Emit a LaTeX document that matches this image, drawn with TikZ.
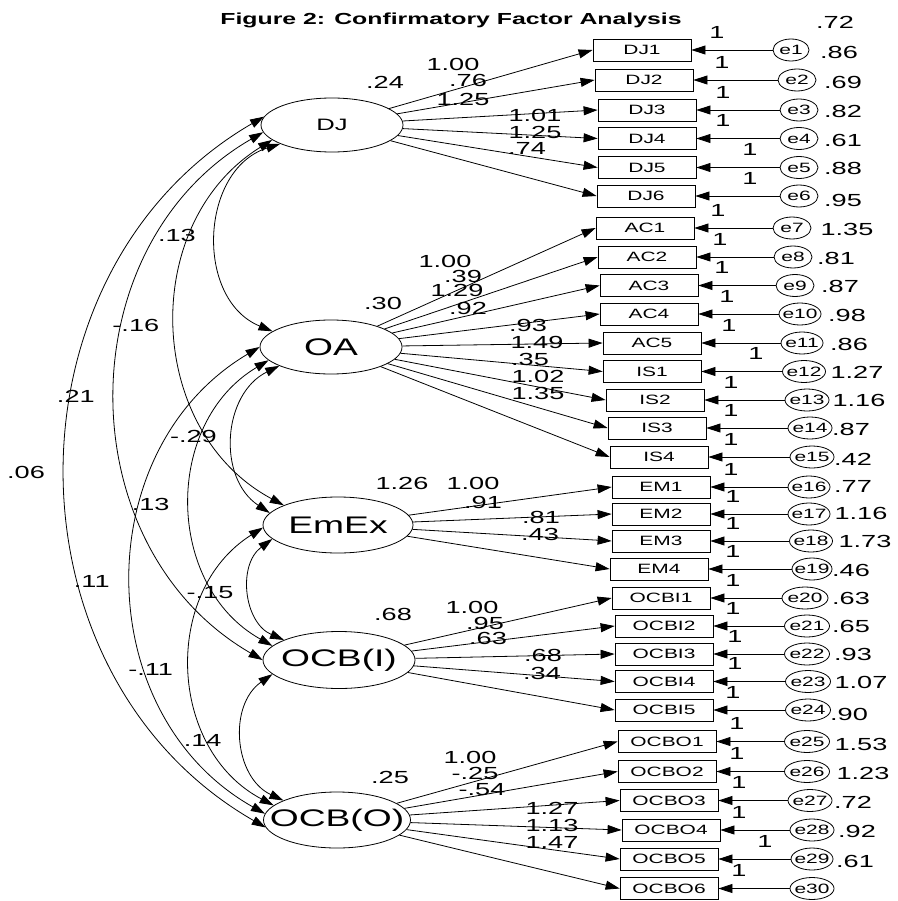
\documentclass[tikz,border=0pt]{standalone}
\usepackage{fontspec}
\setmainfont{Liberation Sans}[FakeStretch=1.55]
\usetikzlibrary{arrows.meta,shapes.geometric}
\newcommand{\zw}[1]{\makebox[0pt]{#1}}

\begin{document}
\begin{tikzpicture}[x=1pt,y=-1pt,line width=.8pt,>={Triangle[length=14pt,width=9pt]},
lat/.style={draw,ellipse,inner sep=0pt,font=\fontsize{24}{26}\selectfont},
obs/.style={draw,minimum width=98pt,minimum height=22pt,inner sep=0pt,font=\fontsize{13.5}{15}\selectfont},
err/.style={draw,ellipse,minimum height=22pt,inner sep=0pt,font=\fontsize{13.5}{15}\selectfont},
num/.style={inner sep=0pt,font=\fontsize{17.5}{19}\selectfont},
cl/.style={num,midway,xshift=-40pt}]
\useasboundingbox (0,0) rectangle (897,901);
\node[font=\bfseries\fontsize{16}{18}\selectfont,anchor=base] (title) at (451,25) {Figure 2: Confirmatory Factor Analysis};
% latent factors
\node[lat,minimum width=142pt,minimum height=54pt,font=\fontsize{16.5}{18}\selectfont] (DJ) at (332,125) {\zw{DJ}};
\node[lat,minimum width=142pt,minimum height=54pt] (OA) at (331,347) {\zw{OA}};
\node[lat,minimum width=150pt,minimum height=56pt] (EmEx) at (338,525) {\zw{EmEx}};
\node[lat,minimum width=152pt,minimum height=57pt] (OCBI) at (339,660) {\zw{OCB(I)}};
\node[lat,minimum width=147pt,minimum height=56pt] (OCBO) at (337,820) {\zw{OCB(O)}};
\node[num] (vDJ) at (385,82) {.24};
\node[num] (vOA) at (383,303) {.30};
\node[num] (vEmEx) at (402,483) {1.26};
\node[num] (vOCBI) at (393,614) {.68};
\node[num] (vOCBO) at (390,777) {.25};
% indicators, error terms and loadings
\foreach \n/\lat/\bx/\by/\ex/\ew/\ox/\v/\vx/\ld/\lx/\ly [count=\i] in {
DJ1/DJ/642/50/791/36/717/.72/835/1.00/453/64,
DJ2/DJ/644/80/797/38/722/.86/839/.76/468/80,
DJ3/DJ/647/110/799/38/723/.69/843/1.25/463/99,
DJ4/DJ/647/138.5/799/38/723/.82/843/1.01/535/115,
DJ5/DJ/647/167.5/799/38/750/.61/843/1.25/535/132,
DJ6/DJ/646/196/799/38/750/.88/843/.74/527/148,
AC1/OA/645/228/792/38/718/.95/843/1.00/445/261,
AC2/OA/647/257/793/38/720/1.35/847/.39/463/276,
AC3/OA/649/285.5/795/38/722/.81/836/1.29/457/290,
AC4/OA/649/314/800/42/727/.87/840/.92/468/308,
AC5/OA/652/343/802/42/729/.98/847/.93/528/325,
IS1/OA/652/371.5/804/43/756/.86/849/1.49/537/342,
IS2/OA/655/400/807/44/731/1.27/857/.35/530/359,
IS3/OA/657/428/810/44/731/1.16/859/1.02/538/376,
IS4/OA/659/457/812/44/731/.87/851/1.35/538/393,
EM1/EmEx/661/487/809/42/731/.42/853/1.00/473/483,
EM2/EmEx/661/514/809/42/733/.77/853/.91/483/502,
EM3/EmEx/661/541/811/43/733/1.16/861/.81/541/517,
EM4/EmEx/659/569/812/40/733/1.73/865/.43/540/534,
OCBI1/OCBI/661/598/805/46/733/.46/851/1.00/472/607,
OCBI2/OCBI/664/626/807/45/733/.63/851/.95/485/623,
OCBI3/OCBI/664/654/807/45/735/.65/851/.63/488/638,
OCBI4/OCBI/664/681.5/808/45/735/.93/853/.68/543/655,
OCBI5/OCBI/664/710/808/45/733/1.07/861/.34/542/673,
OCBO1/OCBO/667/741.5/807/45/737/.90/849/1.00/470/757,
OCBO2/OCBO/667/771.5/807/45/737/1.53/861/-.25/475/773,
OCBO3/OCBO/669/800.5/810/44/739/1.23/863/-.54/482/790,
OCBO4/OCBO/671/830/812/44/739/.72/853/1.27/552/808,
OCBO5/OCBO/669/859/812/42/765/.92/857/1.13/552/825,
OCBO6/OCBO/669/888.5/812/44/739/.61/855/1.47/552/842}{
\node[obs] (\n) at (\bx,\by) {\n};
\node[err,minimum width=\ew pt] (e\i) at (\ex,\by) {\zw{e\i}};
\draw[->] (e\i) -- (\n);
\draw[->] (\lat) -- (\n.west);
\node[num] (one\i) at (\ox,\by-18) {1};
\node[num] (ve\i) at (\vx,\by-27.5) {\v};
\node[num] (ld\i) at (\lx,\ly) {\ld};
}
% covariances
\draw[<->] (DJ.200) to[bend right=70,looseness=1.15] node[cl] (c1) {.13} (OA.165);
\draw[<->] (DJ.194) to[bend right=60,looseness=1.1] node[cl] (c2) {-.16} (EmEx.160);
\draw[<->] (DJ.186) to[bend right=60,looseness=1.1] node[cl] (c3) {.21} (OCBI.180);
\draw[<->] (DJ.173) to[bend right=60,looseness=1.1] node[cl] (c4) {.06} (OCBO.186);
\draw[<->] (OA.200) to[bend right=60,looseness=1.1] node[cl] (c5) {-.29} (EmEx.170);
\draw[<->] (OA.192) to[bend right=60,looseness=1.1] node[cl] (c6) {.13} (OCBI.168);
\draw[<->] (OA.180) to[bend right=60,looseness=1.1] node[cl] (c7) {.11} (OCBO.175);
\draw[<->] (EmEx.192) to[bend right=60,looseness=1.1] node[cl] (c8) {-.15} (OCBI.160);
\draw[<->] (EmEx.182) to[bend right=60,looseness=1.1] node[cl] (c9) {-.11} (OCBO.167);
\draw[<->] (OCBI.192) to[bend right=60,looseness=1.1] node[cl] (c10) {.14} (OCBO.160);
\end{tikzpicture}
\end{document}
